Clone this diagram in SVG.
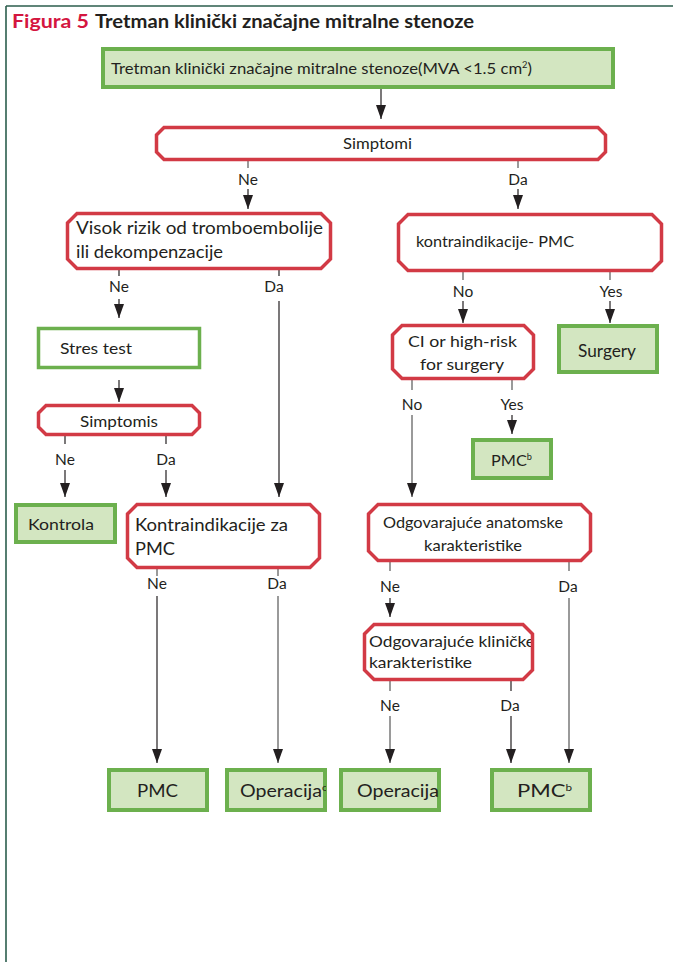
<svg xmlns="http://www.w3.org/2000/svg" width="673" height="962" viewBox="0 0 673 962">
  <style>
    .txt { font-family: Lato, "Noto Sans", "DejaVu Sans", sans-serif; fill: #231f20; }
    .lbl { font-family: Lato, "Noto Sans", "DejaVu Sans", sans-serif; fill: #231f20; font-size: 15.5px; text-anchor: middle; }
    .dec { fill: #ffffff; stroke: #d23a45; stroke-width: 3.5; stroke-linejoin: miter; }
    .act { fill: #d3e6c1; stroke: #6cb04e; stroke-width: 4; }
    .actw { fill: #ffffff; stroke: #6cb04e; stroke-width: 3.5; }
    .ln { fill: none; stroke: #231f20; stroke-width: 1.2; }
    .lg { fill: none; stroke: #6f6f6f; stroke-width: 1.4; }
    .arr { marker-end: url(#head); }
  </style>
  <defs>
    <marker id="head" markerUnits="userSpaceOnUse" markerWidth="14" markerHeight="10" viewBox="0 0 14 10" refX="14" refY="5" orient="auto">
      <path d="M0,0 L14,5 L0,10 Z" fill="#231f20"/>
    </marker>
    <clipPath id="clipOpC"><rect x="227" y="770" width="99" height="40"/></clipPath>
    <clipPath id="clipOp"><rect x="341" y="770" width="99" height="40"/></clipPath>
    <clipPath id="clipKlin"><rect x="365" y="625" width="169" height="54"/></clipPath>
  </defs>

  <!-- page frame -->
  <g id="frame">
    <line x1="6" y1="6" x2="673" y2="6" stroke="#2b5d4d" stroke-width="1.6"/>
    <line x1="6" y1="6" x2="6" y2="962" stroke="#2b5d4d" stroke-width="1.6"/>
  </g>

  <!-- heading -->
  <g id="title">
    <text x="12" y="28" font-family="Lato, 'Noto Sans', sans-serif" font-weight="bold" font-size="19" fill="#d4163f" textLength="77" lengthAdjust="spacingAndGlyphs">Figura 5</text>
    <text x="95" y="28" font-family="Lato, 'Noto Sans', sans-serif" font-weight="bold" font-size="19" fill="#231f20" textLength="379" lengthAdjust="spacingAndGlyphs">Tretman klinički značajne mitralne stenoze</text>
  </g>

  <!-- connectors -->
  <g id="connectors">
    <line class="ln arr" x1="381" y1="89" x2="381" y2="119"/>

    <line class="lg" x1="248" y1="161" x2="248" y2="168"/>
    <text class="lbl" x="248" y="185">Ne</text>
    <line class="ln arr" x1="248" y1="189" x2="248" y2="209"/>

    <line class="lg" x1="518" y1="161" x2="518" y2="168"/>
    <text class="lbl" x="518" y="185">Da</text>
    <line class="ln arr" x1="518" y1="189" x2="518" y2="209"/>

    <line class="ln" x1="119" y1="270" x2="119" y2="276"/>
    <text class="lbl" x="119" y="292" font-family="'Liberation Serif', serif">Ne</text>
    <line class="ln arr" x1="119" y1="299" x2="119" y2="318"/>

    <line class="ln" x1="279" y1="270" x2="279" y2="276"/>
    <text class="lbl" x="274" y="292">Da</text>
    <line class="ln arr" x1="279" y1="301" x2="279" y2="497"/>

    <line class="ln arr" x1="119" y1="380" x2="119" y2="402"/>

    <line class="ln" x1="65" y1="436" x2="65" y2="444"/>
    <text class="lbl" x="65" y="465">Ne</text>
    <line class="ln arr" x1="65" y1="470" x2="65" y2="497"/>

    <line class="ln" x1="166" y1="436" x2="166" y2="444"/>
    <text class="lbl" x="166" y="465">Da</text>
    <line class="ln arr" x1="166" y1="470" x2="166" y2="497"/>

    <line class="lg" x1="463" y1="272" x2="463" y2="280"/>
    <text class="lbl" x="463" y="297">No</text>
    <line class="ln arr" x1="463" y1="301" x2="463" y2="323"/>

    <line class="lg" x1="610" y1="272" x2="610" y2="280"/>
    <text class="lbl" x="611" y="297">Yes</text>
    <line class="ln arr" x1="610" y1="301" x2="610" y2="323"/>

    <line class="lg" x1="412" y1="380" x2="412" y2="390"/>
    <text class="lbl" x="412" y="410">No</text>
    <line class="lg arr" x1="412" y1="415" x2="412" y2="497"/>

    <line class="lg" x1="512" y1="380" x2="512" y2="390"/>
    <text class="lbl" x="512" y="410">Yes</text>
    <line class="ln arr" x1="512" y1="415" x2="512" y2="434"/>

    <line class="lg" x1="157" y1="569" x2="157" y2="576"/>
    <text class="lbl" x="157" y="589">Ne</text>
    <line class="ln arr" x1="157" y1="596" x2="157" y2="763"/>

    <line class="lg" x1="278" y1="569" x2="278" y2="576"/>
    <text class="lbl" x="277" y="589">Da</text>
    <line class="lg arr" x1="278" y1="596" x2="278" y2="763"/>

    <line class="lg" x1="390" y1="562" x2="390" y2="571"/>
    <text class="lbl" x="390" y="592">Ne</text>
    <line class="ln arr" x1="390" y1="598" x2="390" y2="617"/>

    <line class="lg" x1="569" y1="562" x2="569" y2="571"/>
    <text class="lbl" x="568" y="592">Da</text>
    <line class="lg arr" x1="569" y1="598" x2="569" y2="763"/>

    <line class="lg" x1="390" y1="681" x2="390" y2="691"/>
    <text class="lbl" x="390" y="711">Ne</text>
    <line class="lg arr" x1="390" y1="716" x2="390" y2="763"/>

    <line class="ln" x1="511" y1="681" x2="511" y2="691"/>
    <text class="lbl" x="510" y="711">Da</text>
    <line class="ln arr" x1="511" y1="716" x2="511" y2="763"/>
  </g>

  <!-- nodes -->
  <g id="n-start">
    <rect class="act" x="103" y="49" width="510" height="38"/>
    <text class="txt" x="111" y="74" font-size="16" textLength="421" lengthAdjust="spacingAndGlyphs">Tretman klinički značajne mitralne stenoze(MVA &lt;1.5 cm<tspan font-size="9" dy="-6">2</tspan><tspan dy="6">)</tspan></text>
  </g>

  <g id="n-simptomi">
    <path class="dec" d="M164,127.5 H598 L605.5,135 V152 L598,159.5 H164 L156.5,152 V135 Z"/>
    <text class="txt" x="343" y="149" font-size="16" textLength="69" lengthAdjust="spacingAndGlyphs">Simptomi</text>
  </g>

  <g id="n-visok">
    <path class="dec" d="M77,213.5 H321 L330.5,223 V259 L321,268.5 H77 L67.5,259 V223 Z"/>
    <text class="txt" x="76" y="234" font-size="17.5" textLength="247" lengthAdjust="spacingAndGlyphs">Visok rizik od tromboembolije</text>
    <text class="txt" x="76" y="258" font-size="17.5" textLength="147" lengthAdjust="spacingAndGlyphs">ili dekompenzacije</text>
  </g>

  <g id="n-kontra-pmc">
    <path class="dec" d="M408,214.5 H652 L661.5,224 V261 L652,270.5 H408 L398.5,261 V224 Z"/>
    <text class="txt" x="416" y="247" font-size="16" textLength="158" lengthAdjust="spacingAndGlyphs">kontraindikacije- PMC</text>
  </g>

  <g id="n-stres">
    <rect class="actw" x="38.5" y="328.5" width="161" height="39"/>
    <text class="txt" x="60" y="354" font-size="16" textLength="72" lengthAdjust="spacingAndGlyphs">Stres test</text>
  </g>

  <g id="n-simptomis">
    <path class="dec" d="M46,405.5 H192 L199.5,413 V427 L192,434.5 H46 L38.5,427 V413 Z"/>
    <text class="txt" x="80" y="427" font-size="16" textLength="78" lengthAdjust="spacingAndGlyphs">Simptomis</text>
  </g>

  <g id="n-ci">
    <path class="dec" d="M402,325.5 H524 L533.5,335 V369 L524,378.5 H402 L392.5,369 V335 Z"/>
    <text class="txt" x="408" y="347" font-size="16" textLength="109" lengthAdjust="spacingAndGlyphs">CI or high-risk</text>
    <text class="txt" x="420" y="370" font-size="16" textLength="84" lengthAdjust="spacingAndGlyphs">for surgery</text>
  </g>

  <g id="n-surgery">
    <rect class="act" x="559" y="326" width="98" height="46"/>
    <text class="txt" x="578" y="357" font-size="17" textLength="58" lengthAdjust="spacingAndGlyphs">Surgery</text>
  </g>

  <g id="n-pmc-b1">
    <rect class="act" x="473" y="440" width="78" height="38"/>
    <text class="txt" x="491" y="466" font-size="16" textLength="41" lengthAdjust="spacingAndGlyphs">PMC<tspan font-size="9" dy="-6">b</tspan></text>
  </g>

  <g id="n-kontrola">
    <rect class="act" x="16" y="505" width="99" height="37"/>
    <text class="txt" x="28" y="530" font-size="16" textLength="66" lengthAdjust="spacingAndGlyphs">Kontrola</text>
  </g>

  <g id="n-kontra-za">
    <path class="dec" d="M137,504.5 H310 L319.5,514 V558 L310,567.5 H137 L127.5,558 V514 Z"/>
    <text class="txt" x="135" y="531" font-size="17.5" textLength="153" lengthAdjust="spacingAndGlyphs">Kontraindikacije za</text>
    <text class="txt" x="135" y="555" font-size="17.5" textLength="40" lengthAdjust="spacingAndGlyphs">PMC</text>
  </g>

  <g id="n-anatomske">
    <path class="dec" d="M378,504.5 H581 L590.5,514 V551 L581,560.5 H378 L368.5,551 V514 Z"/>
    <text class="txt" x="383" y="528" font-size="16" textLength="180" lengthAdjust="spacingAndGlyphs">Odgovarajuće anatomske</text>
    <text class="txt" x="424" y="551" font-size="16" textLength="98" lengthAdjust="spacingAndGlyphs">karakteristike</text>
  </g>

  <g id="n-klinicke">
    <path d="M374,624.5 H523 L532.5,634 V670 L523,679.5 H374 L364.5,670 V634 Z" fill="#ffffff"/>
    <g clip-path="url(#clipKlin)">
      <text class="txt" x="369" y="647" font-size="16" textLength="166" lengthAdjust="spacingAndGlyphs">Odgovarajuće kliničke</text>
    </g>
    <text class="txt" x="369" y="668" font-size="16" textLength="103" lengthAdjust="spacingAndGlyphs">karakteristike</text>
    <path class="dec" style="fill:none" d="M374,624.5 H523 L532.5,634 V670 L523,679.5 H374 L364.5,670 V634 Z"/>
  </g>

  <g id="n-pmc">
    <rect class="act" x="109" y="770" width="98" height="40"/>
    <text class="txt" x="137" y="797" font-size="17" textLength="41" lengthAdjust="spacingAndGlyphs">PMC</text>
  </g>

  <g id="n-operacija-c">
    <rect class="act" x="227" y="770" width="98" height="40"/>
    <g clip-path="url(#clipOpC)">
      <text class="txt" x="240" y="797" font-size="17" textLength="87" lengthAdjust="spacingAndGlyphs">Operacija<tspan font-size="9" dy="-6">c</tspan></text>
    </g>
  </g>

  <g id="n-operacija">
    <rect class="act" x="341" y="770" width="98" height="40"/>
    <g clip-path="url(#clipOp)">
      <text class="txt" x="357" y="797" font-size="17" textLength="82" lengthAdjust="spacingAndGlyphs">Operacija</text>
    </g>
  </g>

  <g id="n-pmc-b2">
    <rect class="act" x="492" y="770" width="98" height="40"/>
    <text class="txt" x="517" y="797" font-size="17" textLength="55" lengthAdjust="spacingAndGlyphs">PMC<tspan font-size="9" dy="-6">b</tspan></text>
  </g>
</svg>
